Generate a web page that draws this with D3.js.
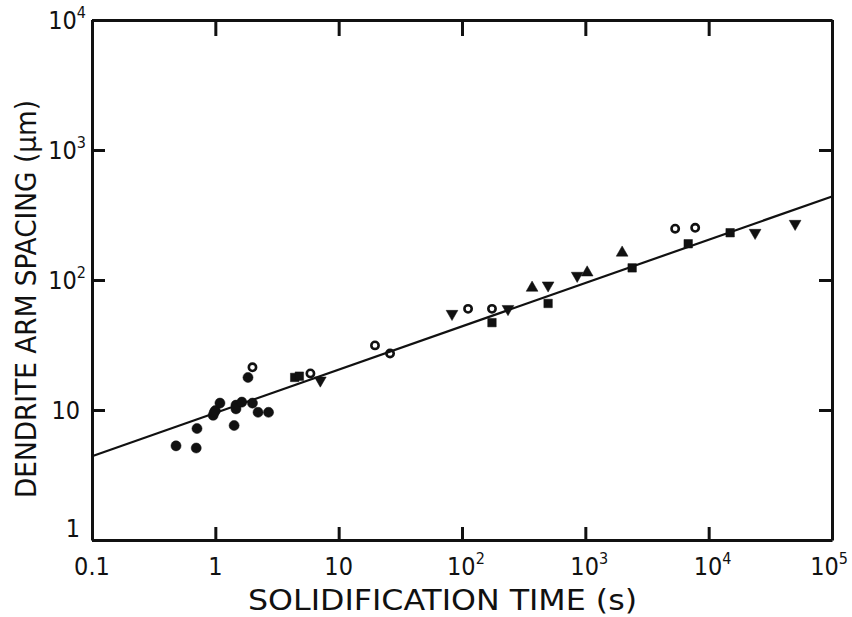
<!DOCTYPE html>
<html>
  <head>
    <meta charset="utf-8" />
    <title>Dendrite arm spacing vs solidification time</title>
    <script src="https://d3js.org/d3.v7.min.js"></script>
    <style>
      body {
        margin: 0;
        background: #fff;
      }
      .axis path,
      .axis line {
        stroke: #111;
        stroke-width: 3px;
      }
      .lbl {
        font-family: "DejaVu Sans Condensed", "DejaVu Sans", sans-serif;
        fill: #111;
      }
    </style>
  </head>
  <body>
    <div id="chart"></div>

    <script>
      // Data (t in s, spacing in um)
      const dotT = [0.48, 0.7, 0.71, 0.96, 0.98, 1.0, 1.09, 1.42, 1.47, 1.47, 1.64, 1.84, 2.0, 2.22, 2.7];
      const dotL = [5.3, 5.1, 7.2, 9.1, 9.6, 9.9, 11.3, 7.6, 10.9, 10.2, 11.5, 17.8, 11.3, 9.6, 9.6];

      const ringT = [2.0, 5.9, 19.7, 26.1, 112, 175, 5350, 7775];
      const ringL = [21.3, 19.1, 31.4, 27.2, 60, 60, 248, 252];

      const squareT = [4.4, 4.8, 175, 499, 2397, 6825, 14930];
      const squareL = [17.8, 18.2, 47, 66, 124, 190, 231];

      const upT = [370, 1035, 1988];
      const upL = [87, 114, 162];

      const downT = [7.1, 83, 236, 499, 859, 23800, 50240];
      const downL = [16.9, 55, 60, 91, 108, 231, 271];

      // fitted line: spacing = A * t^n
      const fitA = 9.5;
      const fitN = 0.333;
      const fitT = [0.1, 1e5];

      const xTicks = [0.1, 1, 10, 100, 1000, 1e4, 1e5];
      const xTickText = [["0.1", ""], ["1", ""], ["10", ""], ["10", "2"], ["10", "3"], ["10", "4"], ["10", "5"]];
      const yTicks = [1, 10, 100, 1000, 1e4];
      const yTickText = [["1", ""], ["10", ""], ["10", "2"], ["10", "3"], ["10", "4"]];

      const width = 852;
      const height = 617;
      const plot = { left: 92, right: 832, top: 20, bottom: 540 };

      const svg = d3
        .select("#chart")
        .append("svg")
        .attr("width", width)
        .attr("height", height);

      const x = d3.scaleLog().domain([0.1, 1e5]).range([plot.left, plot.right]);
      const y = d3.scaleLog().domain([1, 1e4]).range([plot.bottom, plot.top]);

      // axes with inward ticks on all four sides
      svg.append("g")
        .attr("class", "axis")
        .attr("transform", `translate(0,${plot.bottom})`)
        .call(d3.axisBottom(x).tickValues(xTicks).tickSize(-13).tickSizeOuter(0).tickFormat(""));
      svg.append("g")
        .attr("class", "axis")
        .attr("transform", `translate(0,${plot.top})`)
        .call(d3.axisTop(x).tickValues(xTicks).tickSize(-16).tickSizeOuter(0).tickFormat(""));
      svg.append("g")
        .attr("class", "axis")
        .attr("transform", `translate(${plot.left},0)`)
        .call(d3.axisLeft(y).tickValues(yTicks).tickSize(-13).tickSizeOuter(0).tickFormat(""));
      svg.append("g")
        .attr("class", "axis")
        .attr("transform", `translate(${plot.right},0)`)
        .call(d3.axisRight(y).tickValues(yTicks).tickSize(-13).tickSizeOuter(0).tickFormat(""));

      // tick labels with superscripts
      function powLabel(sel, parts) {
        sel.append("tspan").text(parts[0]);
        if (parts[1]) {
          sel.append("tspan").attr("dy", -11).attr("font-size", 16).text(parts[1]);
        }
      }

      xTicks.forEach((v, i) => {
        const sup = xTickText[i][1] !== "";
        const t = svg.append("text")
          .attr("class", "lbl")
          .attr("x", sup ? x(v) - 15 : x(v))
          .attr("y", 575)
          .attr("text-anchor", sup ? "start" : "middle")
          .attr("font-size", 25);
        powLabel(t, xTickText[i]);
        // keep the last label inside the page
        const w = t.node().getComputedTextLength();
        if (sup && x(v) - 15 + w > width - 4) t.attr("x", width - 4 - w);
      });

      yTicks.forEach((v, i) => {
        const t = svg.append("text")
          .attr("class", "lbl")
          .attr("x", yTickText[i][1] ? 86 : 80)
          .attr("y", y(v) + (v === 1 ? -3 : 9))
          .attr("text-anchor", "end")
          .attr("font-size", 25);
        powLabel(t, yTickText[i]);
      });

      // axis titles
      svg.append("text")
        .attr("class", "lbl")
        .attr("x", 248)
        .attr("y", 610)
        .attr("font-size", 29)
        .attr("textLength", 389)
        .attr("lengthAdjust", "spacingAndGlyphs")
        .text("SOLIDIFICATION  TIME  (s)");

      svg.append("text")
        .attr("class", "lbl")
        .attr("transform", "translate(36,498) rotate(-90)")
        .attr("font-size", 29)
        .attr("textLength", 398)
        .attr("lengthAdjust", "spacingAndGlyphs")
        .text("DENDRITE  ARM  SPACING  (\u00b5m)");

      // fitted line
      svg.append("path")
        .datum(fitT)
        .attr("fill", "none")
        .attr("stroke", "#111")
        .attr("stroke-width", 2.2)
        .attr("d", d3.line().x((t) => x(t)).y((t) => y(fitA * Math.pow(t, fitN))));

      // markers
      const zip = (ts, ls) => ts.map((t, i) => ({ t: t, l: ls[i] }));
      function drawSymbols(data, type, size, rot, filled) {
        svg.append("g")
          .selectAll("path")
          .data(data)
          .enter()
          .append("path")
          .attr("transform", (d) => `translate(${x(d.t)},${y(d.l)}) rotate(${rot})`)
          .attr("d", d3.symbol().type(type).size(size))
          .attr("fill", filled ? "#111" : "none")
          .attr("stroke", "#111")
          .attr("stroke-width", filled ? 0.5 : 2.6);
      }

      drawSymbols(zip(dotT, dotL), d3.symbolCircle, 80, 0, true);
      drawSymbols(zip(ringT, ringL), d3.symbolCircle, 42, 0, false);
      drawSymbols(zip(squareT, squareL), d3.symbolSquare, 72, 0, true);
      drawSymbols(zip(upT, upL), d3.symbolTriangle, 60, 0, true);
      drawSymbols(zip(downT, downL), d3.symbolTriangle, 60, 180, true);
    </script>
  </body>
</html>
